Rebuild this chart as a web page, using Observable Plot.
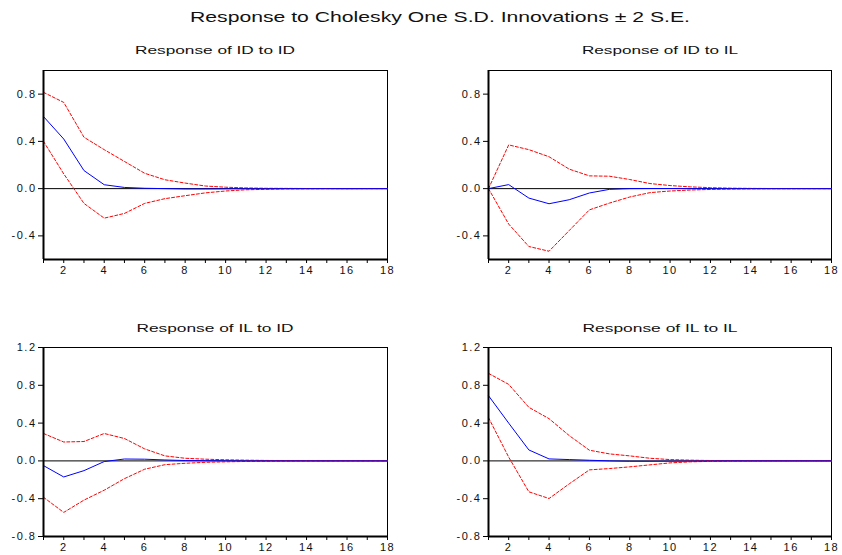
<!DOCTYPE html>
<html><head><meta charset="utf-8">
<script src="https://cdn.jsdelivr.net/npm/d3@7"></script>
<script src="https://cdn.jsdelivr.net/npm/@observablehq/plot@0.6"></script>
<style>
body{margin:0;background:#fff;}
#chart{position:relative;width:842px;height:555px;background:#fff;overflow:hidden;}
.panel{position:absolute;}
#titles{position:absolute;left:0;top:0;pointer-events:none;}
</style></head><body><div id="chart"></div>
<script>
// ---------- data ----------
const periods = [1,2,3,4,5,6,7,8,9,10,11,12,13,14,15,16,17,18];

const mainTitle = "Response to Cholesky One S.D. Innovations \u00B1 2 S.E.";
const panelTitles = ["Response of ID to ID","Response of ID to IL","Response of IL to ID","Response of IL to IL"];

const topTicks = [-0.4, 0.0, 0.4, 0.8];
const bottomTicks = [-0.8, -0.4, 0.0, 0.4, 0.8, 1.2];
const topDomain = [-0.6, 1.0];
const bottomDomain = [-0.8, 1.2];
const xTickLabels = [2,4,6,8,10,12,14,16,18];

// Response of ID to ID
const idId = [0.61,0.42,0.153,0.033,0.010,0.003,0.000,-0.003,-0.003,-0.002,-0.001,-0.001,0,0,0,0,0,0];
const idIdUp = [0.815,0.73,0.435,0.33,0.23,0.13,0.075,0.047,0.022,0.012,0.006,0.003,0.002,0.001,0.001,0,0,0];
const idIdLo = [0.40,0.125,-0.125,-0.25,-0.21,-0.125,-0.085,-0.06,-0.036,-0.02,-0.01,-0.006,-0.003,-0.002,-0.001,-0.001,0,0];

// Response of ID to IL
const idIl = [0,0.034,-0.08,-0.128,-0.094,-0.037,-0.006,0.000,0.001,0.001,0,0,0,0,0,0,0,0];
const idIlUp = [0,0.37,0.33,0.27,0.165,0.108,0.105,0.077,0.043,0.026,0.015,0.008,0.004,0.002,0.001,0.001,0,0];
const idIlLo = [0,-0.30,-0.49,-0.53,-0.355,-0.18,-0.122,-0.071,-0.034,-0.02,-0.012,-0.007,-0.004,-0.002,-0.001,-0.001,0,0];

// Response of IL to ID
const ilId = [-0.05,-0.17,-0.103,-0.007,0.02,0.018,0.01,0.004,0.002,0.001,0,0,0,0,0,0,0,0];
const ilIdUp = [0.29,0.20,0.205,0.29,0.237,0.127,0.053,0.028,0.018,0.012,0.008,0.005,0.003,0.002,0.001,0.001,0,0];
const ilIdLo = [-0.385,-0.545,-0.415,-0.31,-0.188,-0.088,-0.04,-0.025,-0.015,-0.01,-0.006,-0.004,-0.002,-0.001,-0.001,0,0,0];

// Response of IL to IL
const ilIl = [0.69,0.40,0.116,0.021,0.014,0.007,0.0,-0.004,-0.004,-0.003,-0.002,-0.001,0,0,0,0,0,0];
const ilIlUp = [0.926,0.81,0.567,0.447,0.268,0.113,0.074,0.053,0.028,0.014,0.008,0.004,0.002,0.001,0.001,0,0,0];
const ilIlLo = [0.458,0.04,-0.327,-0.398,-0.243,-0.095,-0.081,-0.063,-0.042,-0.021,-0.01,-0.005,-0.003,-0.002,-0.001,0,0,0];

// ---------- layout ----------
const panels = [
  {title: panelTitles[0], mid: idId, up: idIdUp, lo: idIdLo, domain: topDomain, ticks: topTicks,
   left: 0, top: 60, height: 219, mL: 43, mR: 34, mB: 20, tx: 215, ty: 54, tw: 160},
  {title: panelTitles[1], mid: idIl, up: idIlUp, lo: idIlLo, domain: topDomain, ticks: topTicks,
   left: 421, top: 60, height: 219, mL: 67, mR: 11, mB: 20, tx: 660, ty: 54, tw: 156},
  {title: panelTitles[2], mid: ilId, up: ilIdUp, lo: ilIdLo, domain: bottomDomain, ticks: bottomTicks,
   left: 0, top: 337, height: 218, mL: 43, mR: 34, mB: 19, tx: 215, ty: 332, tw: 157},
  {title: panelTitles[3], mid: ilIl, up: ilIlUp, lo: ilIlLo, domain: bottomDomain, ticks: bottomTicks,
   left: 421, top: 337, height: 218, mL: 67, mR: 11, mB: 19, tx: 660, ty: 332, tw: 155}
];

const chart = document.getElementById("chart");

for (const p of panels) {
  const rows = (arr) => periods.map((t, i) => ({t, v: arr[i]}));
  const svg = Plot.plot({
    width: 421,
    height: p.height,
    marginLeft: p.mL,
    marginRight: p.mR,
    marginTop: 10,
    marginBottom: p.mB,
    style: {fontFamily: "'Liberation Sans', Arial, sans-serif", fontSize: "11px", color: "#111", background: "#fff", letterSpacing: "1.5px", overflow: "visible"},
    x: {domain: [1, 18]},
    y: {domain: p.domain},
    marks: [
      Plot.frame({stroke: "#000", strokeWidth: 1}),
      Plot.ruleY([0], {stroke: "#000", strokeWidth: 1}),
      Plot.lineY(rows(p.lo), {x: "t", y: "v", stroke: "#ff0000", strokeWidth: 1, strokeDasharray: "3,2"}),
      Plot.lineY(rows(p.up), {x: "t", y: "v", stroke: "#ff0000", strokeWidth: 1, strokeDasharray: "3,2"}),
      Plot.lineY(rows(p.mid), {x: "t", y: "v", stroke: "#0000ff", strokeWidth: 1}),
      Plot.axisY({ticks: p.ticks, tickSize: 5, tickPadding: 2, tickFormat: d => d.toFixed(1), label: null, stroke: "#000"}),
      Plot.axisX({ticks: periods, tickSize: 4, tickPadding: 3, tickFormat: d => xTickLabels.includes(d) ? String(d) : "", label: null, stroke: "#000"}),
      Plot.ruleX([1], {stroke: "#000", strokeWidth: 2}),
      Plot.ruleY([p.domain[0]], {stroke: "#000", strokeWidth: 2})
    ]
  });
  svg.classList.add("panel");
  svg.style.left = p.left + "px";
  svg.style.top = p.top + "px";
  svg.style.position = "absolute";
  chart.appendChild(svg);
}

// titles overlay
const ov = d3.select(chart).append("svg").attr("id", "titles").attr("width", 842).attr("height", 555)
  .style("font-family", "'Liberation Sans', Arial, sans-serif").style("fill", "#111");
ov.append("text").attr("x", 440).attr("y", 22).attr("text-anchor", "middle")
  .attr("font-size", 14.5).attr("textLength", 500).attr("lengthAdjust", "spacingAndGlyphs").text(mainTitle);
for (const p of panels) {
  ov.append("text").attr("x", p.tx).attr("y", p.ty).attr("text-anchor", "middle")
    .attr("font-size", 11.5).attr("textLength", p.tw).attr("lengthAdjust", "spacingAndGlyphs").text(p.title);
}
</script></body></html>
